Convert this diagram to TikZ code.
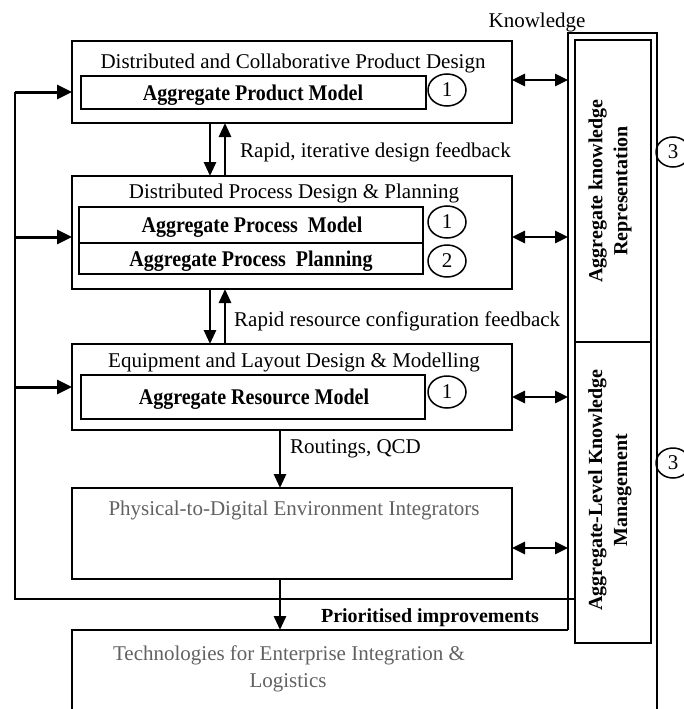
\documentclass[tikz,border=0pt]{standalone}
\usepackage{fontspec}
\usepackage{graphicx}
\setmainfont{Liberation Serif}
\usetikzlibrary{arrows.meta,shapes.geometric}
\newcommand{\fs}{\fontsize{21}{25}\selectfont}
\newcommand{\fb}{\fontsize{20}{25}\selectfont\bfseries}
\begin{document}
\begin{tikzpicture}[x=1pt,y=-1pt,
  box/.style={draw, line width=1.7pt, inner sep=0pt, outer sep=0pt, anchor=north west},
  inbox/.style={draw, line width=1.5pt, inner sep=0pt, outer sep=0pt, anchor=north west},
  kbox/.style={draw, line width=1.5pt, inner sep=0pt, outer sep=0pt, anchor=north west},
  num/.style={draw, ellipse, line width=1.5pt, minimum width=38pt, minimum height=32pt, inner sep=0pt, font=\fs},
  knum/.style={draw, ellipse, line width=1.5pt, minimum width=34pt, minimum height=30pt, inner sep=0pt, font=\fs},
  lbl/.style={inner sep=0pt, font=\fs, anchor=base},
  lblw/.style={inner sep=0pt, font=\fs, anchor=base west},
  inl/.style={inner sep=0pt, font=\fb, anchor=base},
  grey/.style={inner sep=0pt, font=\fs, anchor=base, text=black!62},
  ktxt/.style={inner sep=0pt, font=\fb, align=center, rotate=90},
  arr/.style={line width=2.8pt, -{Triangle[length=14pt,width=12pt]}},
  larr/.style={line width=3pt, -{Triangle[length=15pt,width=14pt]}},
  dbl/.style={line width=2.8pt, {Triangle[length=13pt,width=12pt]}-{Triangle[length=13pt,width=12pt]}},
  loop/.style={line width=2pt},
  frame/.style={line width=1.5pt}
]
\useasboundingbox (0,0) rectangle (684,709);
\clip (0,0) rectangle (684,709);

% main boxes
\node[box, minimum width=440pt, minimum height=82pt] (prod) at (72,41) {};
\node[inbox, minimum width=345pt, minimum height=33pt] (prodIn) at (81,76) {};
\node[num] (c1) at (447,90) {1};

\node[box, minimum width=440pt, minimum height=113pt] (proc) at (72,176) {};
\node[inbox, minimum width=344pt, minimum height=36pt] (procIn) at (79,207) {};
\node[inbox, minimum width=344pt, minimum height=31pt] (planIn) at (79,243) {};
\node[num] (c2) at (447,222) {1};
\node[num] (c3) at (447,261) {2};

\node[box, minimum width=440pt, minimum height=86pt] (equip) at (72,344) {};
\node[inbox, minimum width=344pt, minimum height=44pt] (equipIn) at (81,375) {};
\node[num] (c4) at (447,392) {1};

\node[box, minimum width=440pt, minimum height=91pt] (phys) at (72,488) {};

% knowledge column
\coordinate (kTL) at (568,33);
\coordinate (kTR) at (657,33);
\coordinate (kBL) at (568,630);
\coordinate (kBR) at (657,720);
\coordinate (tTL) at (72,630);
\coordinate (tBL) at (72,720);
\draw[frame] (kBL) -- (kTL) -- (kTR) -- (kBR);
\draw[line width=1.7pt] (kBL) -- (tTL) -- (tBL);
\node[kbox, minimum width=76pt, minimum height=302pt] (krep) at (575,40) {};
\node[kbox, minimum width=76pt, minimum height=301pt] (kman) at (575,342) {};
\node[knum] (k1) at (673,152) {3};
\node[knum] (k2) at (673,463) {3};

% texts
\node[lbl] (tknow) at (537,28) {Knowledge};
\node[lbl] (tprod) at (293,68) {Distributed and Collaborative Product Design};
\node[inl] (tprodIn) at (253,100) {\scalebox{1}[1.12]{Aggregate Product Model}};
\node[lblw] (tfb1) at (240,157) {Rapid, iterative design feedback};
\node[lbl] (tproc) at (294,198) {Distributed Process Design \& Planning};
\node[inl] (tprocIn) at (252,232) {\scalebox{1}[1.12]{Aggregate Process\ \ Model}};
\node[inl] (tplanIn) at (251,266) {\scalebox{1}[1.12]{Aggregate Process\ \ Planning}};
\node[lblw] (tfb2) at (234,326) {Rapid resource configuration feedback};
\node[lbl] (tequip) at (294,367) {Equipment and Layout Design \& Modelling};
\node[inl] (tequipIn) at (254,404) {\scalebox{1}[1.12]{Aggregate Resource Model}};
\node[lblw] (trout) at (290,453) {Routings, QCD};
\node[grey] (tphys) at (294,515) {Physical-to-Digital Environment Integrators};
\node[inl] (tprio) at (430,622) {Prioritised improvements};
\node[grey] (ttech1) at (289,660) {Technologies for Enterprise Integration \&};
\node[grey] (ttech2) at (288,687) {Logistics};
\node[ktxt] (tkrep) at (610,191) {Aggregate knowledge\\Representation};
\node[ktxt] (tkman) at (610,490) {Aggregate-Level Knowledge\\Management};

% left feedback loop
\coordinate (L1) at (15,92);
\coordinate (L2) at (15,237);
\coordinate (L3) at (15,387);
\coordinate (Lb) at (15,599);
\draw[loop] (L1) -- (Lb) -- (kman.west |- Lb);
\draw[larr] (L1) -- (prod.west |- L1);
\draw[larr] (L2) -- (proc.west |- L2);
\draw[larr] (L3) -- (equip.west |- L3);

% vertical arrows
\coordinate (d1) at (210,0);
\coordinate (u1) at (225,0);
\coordinate (m1) at (280,0);
\draw[arr] (prod.south -| d1) -- (proc.north -| d1);
\draw[arr] (proc.north -| u1) -- (prod.south -| u1);
\draw[arr] (proc.south -| d1) -- (equip.north -| d1);
\draw[arr] (equip.north -| u1) -- (proc.south -| u1);
\draw[arr] (equip.south -| m1) -- (phys.north -| m1);
\draw[arr] (phys.south -| m1) -- (tTL -| m1);

% right double arrows
\coordinate (R1) at (540,80);
\coordinate (R2) at (540,237);
\coordinate (R3) at (540,397);
\coordinate (R4) at (540,548);
\draw[dbl] (prod.east |- R1) -- (kTL |- R1);
\draw[dbl] (proc.east |- R2) -- (kTL |- R2);
\draw[dbl] (equip.east |- R3) -- (kTL |- R3);
\draw[dbl] (phys.east |- R4) -- (kTL |- R4);
\end{tikzpicture}
\end{document}
